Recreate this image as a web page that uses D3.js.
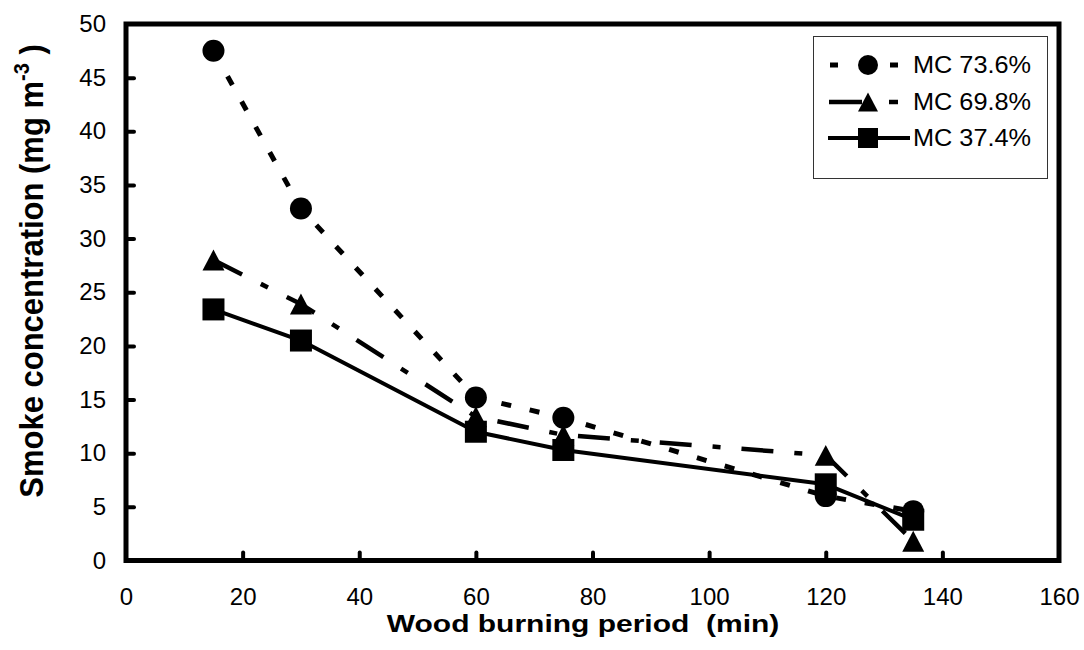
<!DOCTYPE html>
<html>
<head>
<meta charset="utf-8">
<script src="https://cdn.jsdelivr.net/npm/d3@7/dist/d3.min.js"></script>
<style>
  html, body { margin: 0; padding: 0; background: #fff; }
  svg { display: block; font-family: "Liberation Sans", Arial, sans-serif; }
</style>
</head>
<body>
<svg id="chart" width="1084" height="650"></svg>
<script>
// Burning period (min) at which smoke was sampled
const minutes = [15, 30, 60, 75, 120, 135];

// Smoke concentration (mg m-3) for each wood moisture content
const mc736 = [47.5, 32.8, 15.2, 13.3, 6.0, 4.6];
const mc698 = [28.0, 23.9, 13.4, 11.7, 9.8, 1.8];
const mc374 = [23.4, 20.5, 12.0, 10.3, 7.1, 3.8];

const seriesNames = ["MC 73.6%", "MC 69.8%", "MC 37.4%"];
const xTicks = [0, 20, 40, 60, 80, 100, 120, 140, 160];
const yTicks = [0, 5, 10, 15, 20, 25, 30, 35, 40, 45, 50];

const series = [
  { name: seriesNames[0], values: mc736, marker: "circle",   dash: "10,19",        width: 5 },
  { name: seriesNames[1], values: mc698, marker: "triangle", dash: "32,21,8,21",   width: 4.5 },
  { name: seriesNames[2], values: mc374, marker: "square",   dash: null,           width: 4 }
];

const svg = d3.select("#chart");
const plotLeft = 126, plotRight = 1059, plotTop = 24, plotBottom = 560.5;
const fontFamily = "'Liberation Sans', Arial, sans-serif";

const x = d3.scaleLinear().domain([0, 160]).range([plotLeft, plotRight]);
const y = d3.scaleLinear().domain([0, 50]).range([plotBottom, plotTop]);

// Ticks point inward from the left and bottom edges
const yAxis = d3.axisLeft(y).tickValues(yTicks).tickSizeInner(-8).tickSizeOuter(0).tickPadding(20);
const xAxis = d3.axisBottom(x).tickValues(xTicks).tickSizeInner(-8).tickSizeOuter(0).tickPadding(27);

const gy = svg.append("g").attr("transform", `translate(${plotLeft},0)`).call(yAxis);
const gx = svg.append("g").attr("transform", `translate(0,${plotBottom})`).call(xAxis);

[gx, gy].forEach(g => {
  g.attr("font-family", fontFamily).attr("font-size", 24);
  g.select(".domain").remove();
  g.selectAll(".tick line").attr("stroke", "#000").attr("stroke-width", 4).attr("stroke-linecap", "round");
  g.selectAll(".tick text").attr("fill", "#000");
});
// keep the 0 / 160 tick marks off the frame corners
gx.selectAll(".tick line").filter(d => d === 0 || d === 160).remove();
gy.selectAll(".tick line").filter(d => d === 0 || d === 50).remove();

// Plot frame
svg.append("rect")
  .attr("x", plotLeft).attr("y", plotTop)
  .attr("width", plotRight - plotLeft).attr("height", plotBottom - plotTop)
  .attr("fill", "none").attr("stroke", "#000").attr("stroke-width", 5);

// Marker shapes
const markerSize = 22;
function drawMarker(g, kind, cx, cy, s) {
  if (kind === "circle") {
    g.append("circle").attr("cx", cx).attr("cy", cy).attr("r", s / 2).attr("fill", "#000");
  } else if (kind === "square") {
    g.append("rect").attr("x", cx - s / 2).attr("y", cy - s / 2)
      .attr("width", s).attr("height", s).attr("fill", "#000");
  } else {
    const h = s * 0.95;
    g.append("path")
      .attr("d", `M${cx},${cy - h / 2}L${cx + s / 2},${cy + h / 2}L${cx - s / 2},${cy + h / 2}Z`)
      .attr("fill", "#000");
  }
}

const line = d3.line().x(d => x(d[0])).y(d => y(d[1]));

series.forEach(s => {
  const pts = minutes.map((m, i) => [m, s.values[i]]);
  const g = svg.append("g").attr("class", "series");
  const p = g.append("path")
    .attr("d", line(pts))
    .attr("fill", "none").attr("stroke", "#000")
    .attr("stroke-width", s.width)
    .attr("stroke-linejoin", "round");
  if (s.dash) p.attr("stroke-dasharray", s.dash);
  pts.forEach(d => drawMarker(g, s.marker, x(d[0]), y(d[1]), markerSize));
});

// Legend
const legend = svg.append("g");
legend.append("rect")
  .attr("x", 813.5).attr("y", 36.5).attr("width", 234).attr("height", 142)
  .attr("fill", "#fff").attr("stroke", "#333").attr("stroke-width", 1);

const rowY = [65, 102, 138];
series.forEach((s, i) => {
  const cy = rowY[i];
  const row = legend.append("g");
  if (s.marker === "circle") {
    row.append("line").attr("x1", 830).attr("x2", 838).attr("y1", cy).attr("y2", cy)
      .attr("stroke", "#000").attr("stroke-width", 5);
    row.append("line").attr("x1", 890).attr("x2", 898).attr("y1", cy).attr("y2", cy)
      .attr("stroke", "#000").attr("stroke-width", 5);
  } else if (s.marker === "triangle") {
    row.append("line").attr("x1", 829).attr("x2", 862).attr("y1", cy).attr("y2", cy)
      .attr("stroke", "#000").attr("stroke-width", 4.5);
    row.append("line").attr("x1", 889).attr("x2", 898).attr("y1", cy).attr("y2", cy)
      .attr("stroke", "#000").attr("stroke-width", 4.5);
  } else {
    row.append("line").attr("x1", 828).attr("x2", 910).attr("y1", cy).attr("y2", cy)
      .attr("stroke", "#000").attr("stroke-width", 4);
  }
  drawMarker(row, s.marker, 868, cy, 20);
  row.append("text")
    .attr("transform", `translate(913,${cy + 8}) scale(1.1,1)`)
    .attr("font-size", 23).attr("fill", "#000")
    .text(s.name);
});

// Axis titles
svg.append("text")
  .attr("transform", "translate(583,632) scale(1.25,1)")
  .attr("text-anchor", "middle")
  .style("white-space", "pre")
  .attr("font-size", 24).attr("font-weight", "bold").attr("fill", "#000")
  .text("Wood burning period  (min)");

const yt = svg.append("text")
  .attr("transform", "translate(43,271) scale(1.1,1) rotate(-90)")
  .attr("text-anchor", "middle")
  .style("white-space", "pre")
  .attr("font-size", 31).attr("font-weight", "bold").attr("fill", "#000");
yt.append("tspan").text("Smoke concentration (mg m");
yt.append("tspan").attr("font-size", 20).attr("dy", -13).text("-3");
yt.append("tspan").attr("dy", 13).text(" )");
</script>
</body>
</html>
